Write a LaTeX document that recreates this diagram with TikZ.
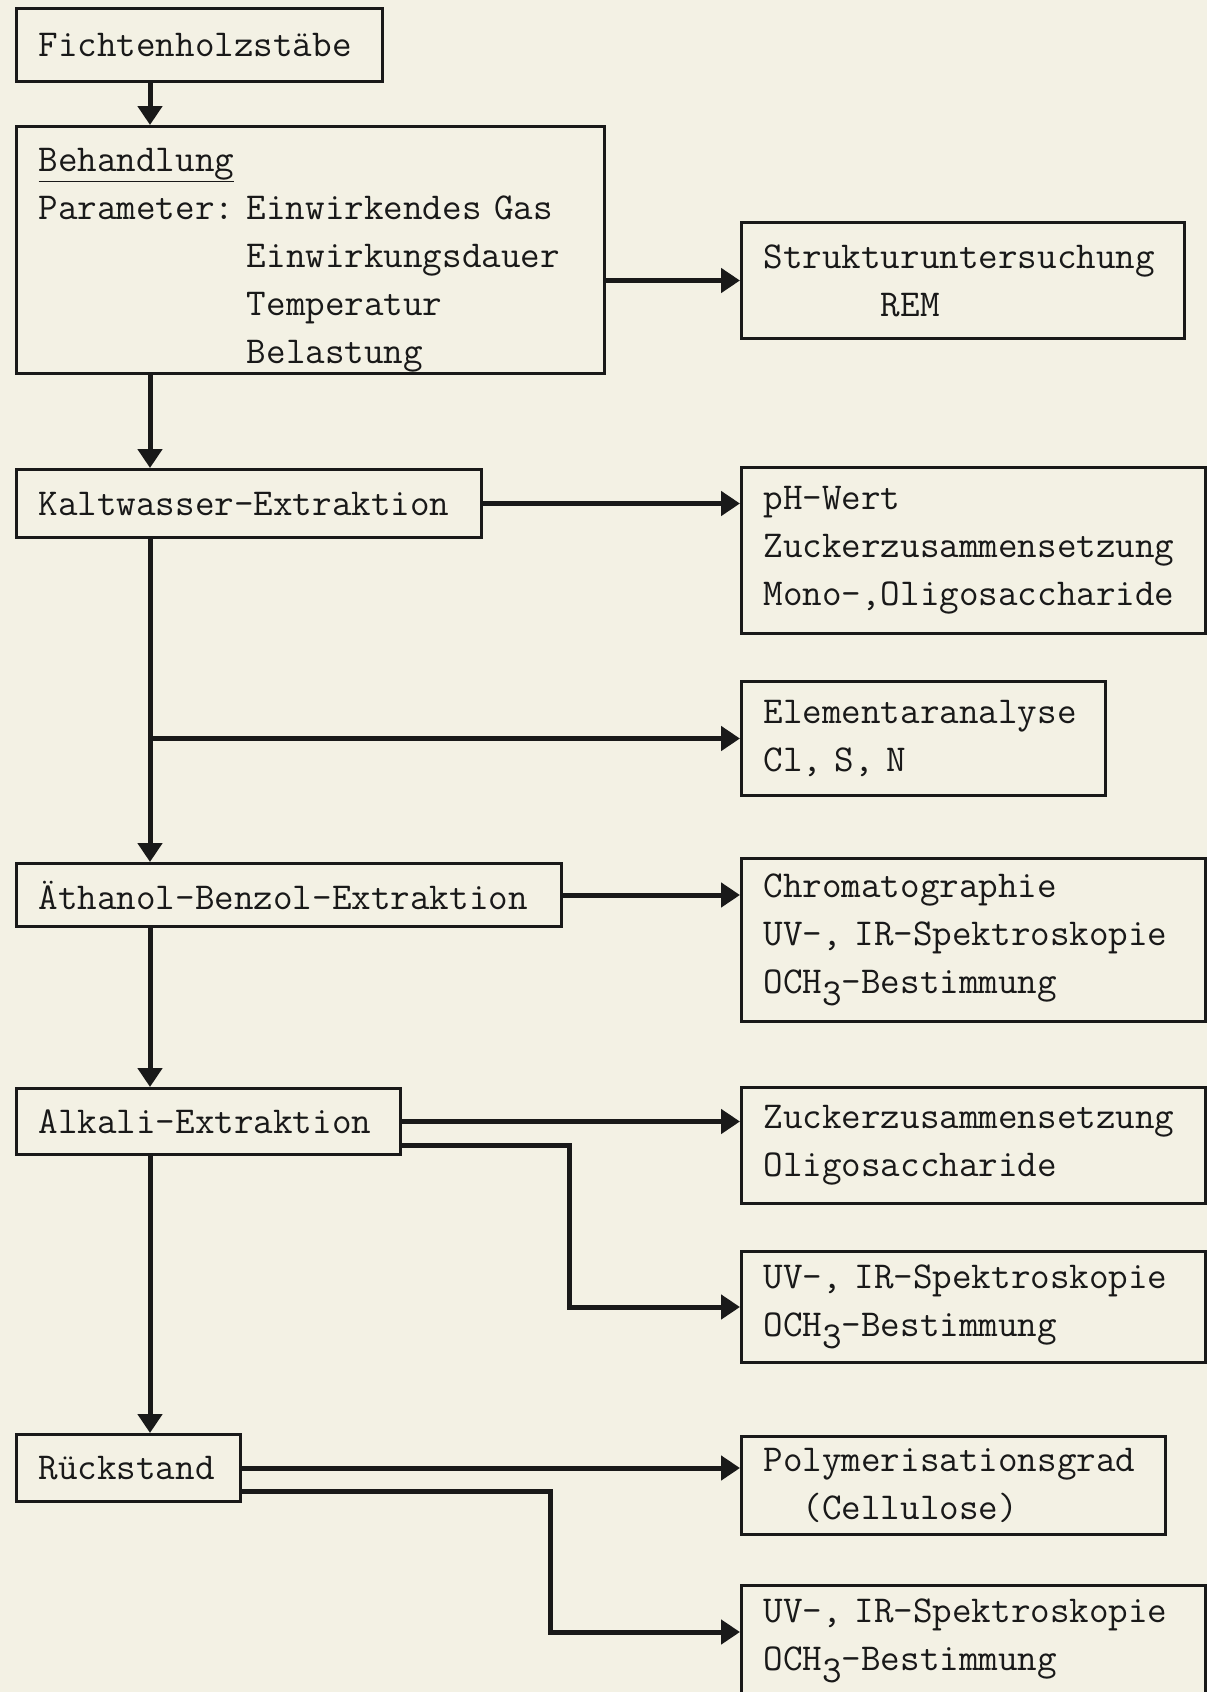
\documentclass[tikz,border=0pt]{standalone}
\usepackage{fontspec}
\usetikzlibrary{arrows.meta}
\definecolor{paper}{RGB}{243,241,228}
\definecolor{ink}{RGB}{25,25,25}

\begin{document}
\begin{tikzpicture}[x=1pt,y=-1pt,
	box/.style={draw=ink,line width=3pt,anchor=north west,align=left,inner xsep=22pt,inner ysep=0pt,
		text=ink,font=\fontsize{38}{48}\selectfont\ttfamily},
	flow/.style={draw=ink,line width=5pt,-{Triangle[length=19pt,width=24pt]}}]
	\fill[paper] (0,0) rectangle (1207,1692);
	\useasboundingbox (0,0) rectangle (1207,1692);
	
	\coordinate (spine) at (150,0);
	\coordinate (bendA) at (569,0);
	\coordinate (bendR) at (550,0);
	
	\node[box,text width=322pt,minimum height=73pt] (fichten) at (15,7) {Fichtenholzstäbe};
	\node[box,text width=544pt,minimum height=247pt] (behandlung) at (15,125)
		{\rule{0pt}{43pt}\underline{Behandlung}\\
		 Parameter:~Einwirkendes~Gas\\
		 \phantom{Parameter:~}Einwirkungsdauer\\
		 \phantom{Parameter:~}Temperatur\\
		 \phantom{Parameter:~}Belastung};
	\node[box,text width=421pt,minimum height=68pt] (kalt) at (15,468) {Kaltwasser-Extraktion};
	\node[box,text width=501pt,minimum height=63pt] (aethanol) at (15,862) {Äthanol-Benzol-Extraktion};
	\node[box,text width=340pt,minimum height=66pt] (alkali) at (15,1087) {Alkali-Extraktion};
	\node[box,text width=180pt,minimum height=67pt] (rueck) at (15,1433) {Rückstand};
	
	\node[box,text width=399pt,minimum height=116pt] (struktur) at (740,221)
		{Strukturuntersuchung\\ \phantom{Strukt}REM};
	\node[box,text width=420pt,minimum height=166pt] (ph) at (740,466)
		{pH-Wert\\ Zuckerzusammensetzung\\ Mono-,Oligosaccharide};
	\node[box,text width=320pt,minimum height=114pt] (element) at (740,680)
		{Elementaranalyse\\ Cl, S, N};
	\node[box,text width=420pt,minimum height=163pt] (chroma) at (740,857)
		{Chromatographie\\ UV-, IR-Spektroskopie\\ OCH\raisebox{-0.7ex}{3}-Bestimmung};
	\node[box,text width=420pt,minimum height=116pt] (zucker) at (740,1086)
		{Zuckerzusammensetzung\\ Oligosaccharide};
	\node[box,text width=420pt,minimum height=111pt] (uvA) at (740,1250)
		{UV-, IR-Spektroskopie\\ OCH\raisebox{-0.7ex}{3}-Bestimmung};
	\node[box,text width=380pt,minimum height=98pt] (poly) at (740,1435)
		{Polymerisationsgrad\\ \phantom{Po}(Cellulose)};
	\node[box,text width=420pt,minimum height=111pt] (uvR) at (740,1584)
		{UV-, IR-Spektroskopie\\ OCH\raisebox{-0.7ex}{3}-Bestimmung};
	
	\draw[flow] (fichten.south -| spine) -- (behandlung.north -| spine);
	\draw[flow] (behandlung.south -| spine) -- (kalt.north -| spine);
	\draw[flow] (kalt.south -| spine) -- (aethanol.north -| spine);
	\draw[flow] (aethanol.south -| spine) -- (alkali.north -| spine);
	\draw[flow] (alkali.south -| spine) -- (rueck.north -| spine);
	
	\draw[flow] (behandlung.east |- struktur.west) -- (struktur.west);
	\draw[flow] (kalt.east) -- (kalt.east -| ph.west);
	\draw[flow] (element.west -| spine) -- (element.west);
	\draw[flow] (aethanol.east) -- (aethanol.east -| chroma.west);
	\draw[flow] (alkali.east) -- (alkali.east -| zucker.west);
	\draw[flow] ([yshift=-24pt]alkali.east) -- ([yshift=-24pt]alkali.east -| bendA) |- (uvA.west);
	\draw[flow] (rueck.east) -- (rueck.east -| poly.west);
	\draw[flow] ([yshift=-23pt]rueck.east) -- ([yshift=-23pt]rueck.east -| bendR) |- ([yshift=9pt]uvR.west);
\end{tikzpicture}
\end{document}
